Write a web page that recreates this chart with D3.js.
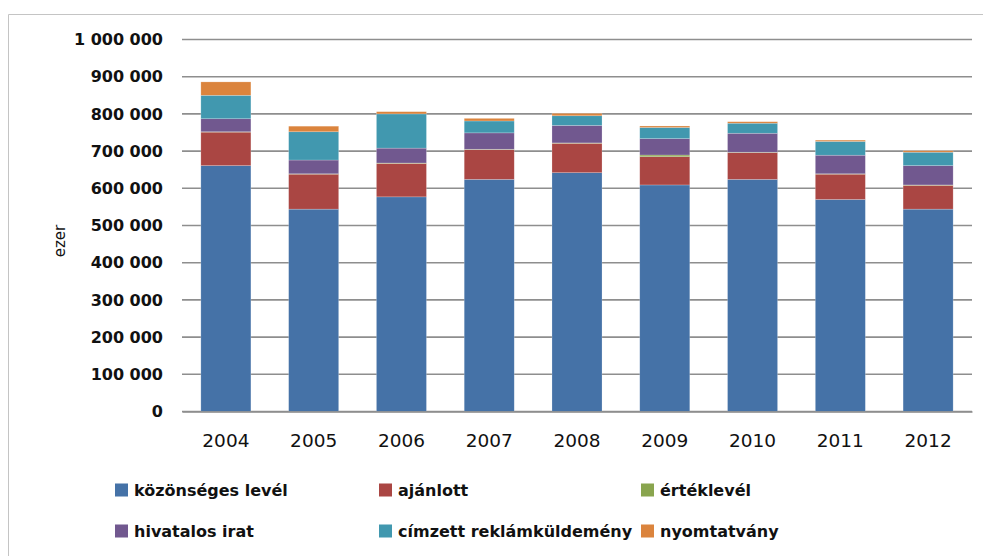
<!DOCTYPE html>
<html>
<head>
<meta charset="utf-8">
<script src="https://cdn.jsdelivr.net/npm/d3@7"></script>
<style>
  body { margin: 0; background: #fff; }
  svg { display: block; }
</style>
</head>
<body>
<svg id="chart"></svg>
<script>
// adatok (darab, ezer)
var years = ["2004", "2005", "2006", "2007", "2008", "2009", "2010", "2011", "2012"]
var seriesNames = ["közönséges levél", "ajánlott", "értéklevél", "hivatalos irat", "címzett reklámküldemény", "nyomtatvány"]
var kozonseges = [661000, 544000, 577000, 624000, 642000, 609000, 624000, 570000, 544000]
var ajanlott = [90000, 94000, 90000, 80000, 79000, 76000, 72000, 68000, 64000]
var erteklevel = [1000, 1000, 1000, 1000, 1000, 4500, 1000, 1000, 1000]
var hivatalos = [35000, 37000, 40000, 44000, 47000, 44000, 51000, 50000, 52000]
var cimzett = [63000, 76000, 92000, 32000, 26000, 30000, 27000, 37000, 36000]
var nyomtatvany = [36000, 15000, 6000, 7000, 6500, 4000, 4000, 3500, 4000]
var yTicks = [0, 100000, 200000, 300000, 400000, 500000, 600000, 700000, 800000, 900000, 1000000]
var colors = ["#4572A7", "#AA4643", "#89A54E", "#71588F", "#4198AF", "#DB843D"]

var allSeries = [kozonseges, ajanlott, erteklevel, hivatalos, cimzett, nyomtatvany]
var data = years.map((y, i) => {
  var row = {year: y}
  seriesNames.forEach((n, j) => { row[n] = allSeries[j][i] })
  return row
})
var stacked = d3.stack().keys(seriesNames)(data)

var width = 983
var height = 556
var margin = ({top: 39.5, right: 11, bottom: 144.5, left: 182})

var x = d3.scaleBand()
  .domain(years)
  .range([margin.left, width - margin.right])
  .paddingInner(0.43)
  .paddingOuter(0.215)

var y = d3.scaleLinear()
  .domain([0, 1000000])
  .range([height - margin.bottom, margin.top])

var fmt = d3.formatLocale({decimal: ",", thousands: " ", grouping: [3], currency: ["", ""]}).format(",d")

const svg = d3.select("#chart")
  .attr("width", width)
  .attr("height", height)
  .attr("viewBox", [0, 0, width, height])

// keret
svg.append("path")
  .attr("d", `M8.5,${height} V14.5 H${width}`)
  .attr("fill", "none")
  .attr("stroke", "#c4c4c4")
  .attr("stroke-width", 1)

// rácsvonalak
svg.append("g")
  .selectAll("line")
  .data(yTicks)
  .join("line")
    .attr("x1", margin.left)
    .attr("x2", width - margin.right)
    .attr("y1", d => y(d))
    .attr("y2", d => y(d))
    .attr("stroke", "#8e8e8e")
    .attr("stroke-width", 1.6)

var yAxis = g => g
  .attr("transform", `translate(163,0)`)
  .call(d3.axisLeft(y).tickValues(yTicks).tickFormat(fmt).tickSize(0).tickPadding(0))
  .call(g => g.select(".domain").remove())
  .call(g => g.selectAll("text")
      .attr("font-family", "DejaVu Sans")
      .attr("font-weight", "bold")
      .attr("font-size", 16)
      .attr("fill", "#111"))

svg.append("g").call(yAxis)

svg.append("text")
  .attr("transform", `translate(65,241) rotate(-90)`)
  .attr("text-anchor", "middle")
  .attr("font-family", "DejaVu Sans")
  .attr("font-size", 15)
  .attr("fill", "#111")
  .text("ezer")

// oszlopok
svg.append("g")
  .selectAll("g")
  .data(stacked)
  .join("g")
    .attr("fill", (d, i) => colors[i])
  .selectAll("rect")
  .data(d => d)
  .join("rect")
    .attr("x", d => x(d.data.year))
    .attr("y", d => y(d[1]))
    .attr("height", d => y(d[0]) - y(d[1]))
    .attr("width", x.bandwidth())
    .attr("stroke", "rgba(255,255,255,0.35)")
    .attr("stroke-width", 0.6)

var xAxis = g => g
  .attr("transform", `translate(0,${height - margin.bottom})`)
  .call(d3.axisBottom(x).tickSize(0).tickPadding(22))
  .call(g => g.select(".domain").attr("stroke", "#8e8e8e").attr("stroke-width", 1.6))
  .call(g => g.selectAll("text")
      .attr("font-family", "DejaVu Sans")
      .attr("font-size", 18.5)
      .attr("fill", "#111"))

svg.append("g").call(xAxis)

// jelmagyarázat
var legendX = [115, 379, 641]
var legendY = [490, 531]
var legend = svg.append("g")
  .selectAll("g")
  .data(seriesNames)
  .join("g")
    .attr("transform", (d, i) => `translate(${legendX[i % 3]},${legendY[Math.floor(i / 3)]})`)

legend.append("rect")
  .attr("x", 0)
  .attr("y", -6.5)
  .attr("width", 13)
  .attr("height", 13)
  .attr("fill", (d, i) => colors[i])

legend.append("text")
  .attr("x", 19)
  .attr("y", 5.5)
  .attr("font-family", "DejaVu Sans")
  .attr("font-weight", "bold")
  .attr("font-size", 16)
  .attr("fill", "#111")
  .text(d => d)
</script>
</body>
</html>
